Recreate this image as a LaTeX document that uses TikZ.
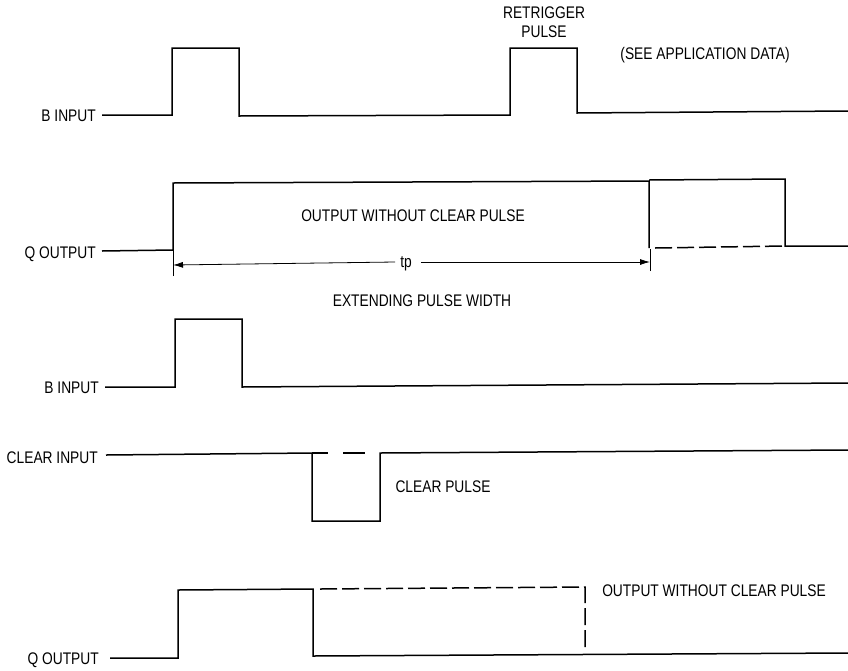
\documentclass[tikz,border=0pt]{standalone}
\usepackage{fontspec}
\setmainfont[FakeStretch=0.82]{Liberation Sans}
\usetikzlibrary{arrows.meta}
\tikzset{
    wave/.style={line width=1.5pt,line join=miter},
    dashwave/.style={line width=1.5pt,dash pattern=on 17pt off 5pt},
    dimline/.style={line width=0.8pt,-{Latex[length=10pt,width=6pt]}},
    ticksig/.style={line width=0.6pt},
    lbl/.style={font=\fontsize{16.8}{20}\selectfont,inner sep=6pt,text height=12pt,text depth=1pt},
    sidelbl/.style={lbl,anchor=east,text height=14pt},
  }

\begin{document}
\begin{tikzpicture}[x=1pt,y=-1pt]
    \useasboundingbox (0,0) rectangle (848,670);

    % first block
    \node[sidelbl] (binA) at (102,115) {B INPUT};
    \node[sidelbl,text height=15pt] (qoutA) at (102,251) {Q OUTPUT};
    \node[lbl] (retrig) at (544,13) {RETRIGGER};
    \node[lbl] (retrigB) at (544,32) {PULSE};
    \node[lbl] (appdata) at (705,54) {(SEE APPLICATION DATA)};
    \node[lbl] (nocl) at (413,216) {OUTPUT WITHOUT CLEAR PULSE};
    \node[lbl,inner sep=5pt] (tp) at (406,262) {tp};
    \node[lbl] (ext) at (422,301) {EXTENDING PULSE WIDTH};

    \draw[wave] (binA.east)--(172,115)--(172,48)--(239,48)--(239,116)
    --(510,115)--(510,48)--(577,48)--(577,113)--(848,111);
    \draw[wave] (qoutA.east)--(173,250)--(173,183)--(649,181)--(649,248);
    \draw[wave] (649,180)--(785,179)--(785,246)--(848,246);
    \draw[dashwave] (655,248)--(785,246);

    % tp dimension
    \coordinate (tickL) at (173,265);
    \coordinate (tickR) at (650,262);
    \foreach \t/\a/\b in {tickL/-11/15,tickR/-9/13}{
        \draw[ticksig] ([yshift=\a]\t)--([yshift=\b]\t);
      }
    \draw[dimline] (tp.west)--(tickL);
    \draw[dimline] ([xshift=4pt]tp.east)--(tickR);

    % second block
    \node[sidelbl] (binB) at (105,387) {B INPUT};
    \node[sidelbl,inner xsep=8pt,text height=17pt] (clr) at (106,455) {CLEAR INPUT};
    \node[sidelbl,inner xsep=11pt] (qoutB) at (110,658) {Q OUTPUT};
    \node[lbl] (clrp) at (443,487) {CLEAR PULSE};
    \node[lbl] (noclB) at (714,591) {OUTPUT WITHOUT CLEAR PULSE};

    \draw[wave] (binB.east)--(175,387)--(175,319)--(242,319)--(242,387)--(848,383);
    \draw[wave] (clr.east)--(312,453)--(312,521)--(380,521)--(380,453)--(848,450);
    \draw[wave,dash pattern=on 16pt off 15pt on 22pt off 15pt] (312,453)--(380,453);
    \draw[wave] (qoutB.east)--(178,658)--(178,590)--(313,589)--(313,656)--(848,653);
    \draw[dashwave] (320,589)--(585,587)--(585,650);
  \end{tikzpicture}
\end{document}
